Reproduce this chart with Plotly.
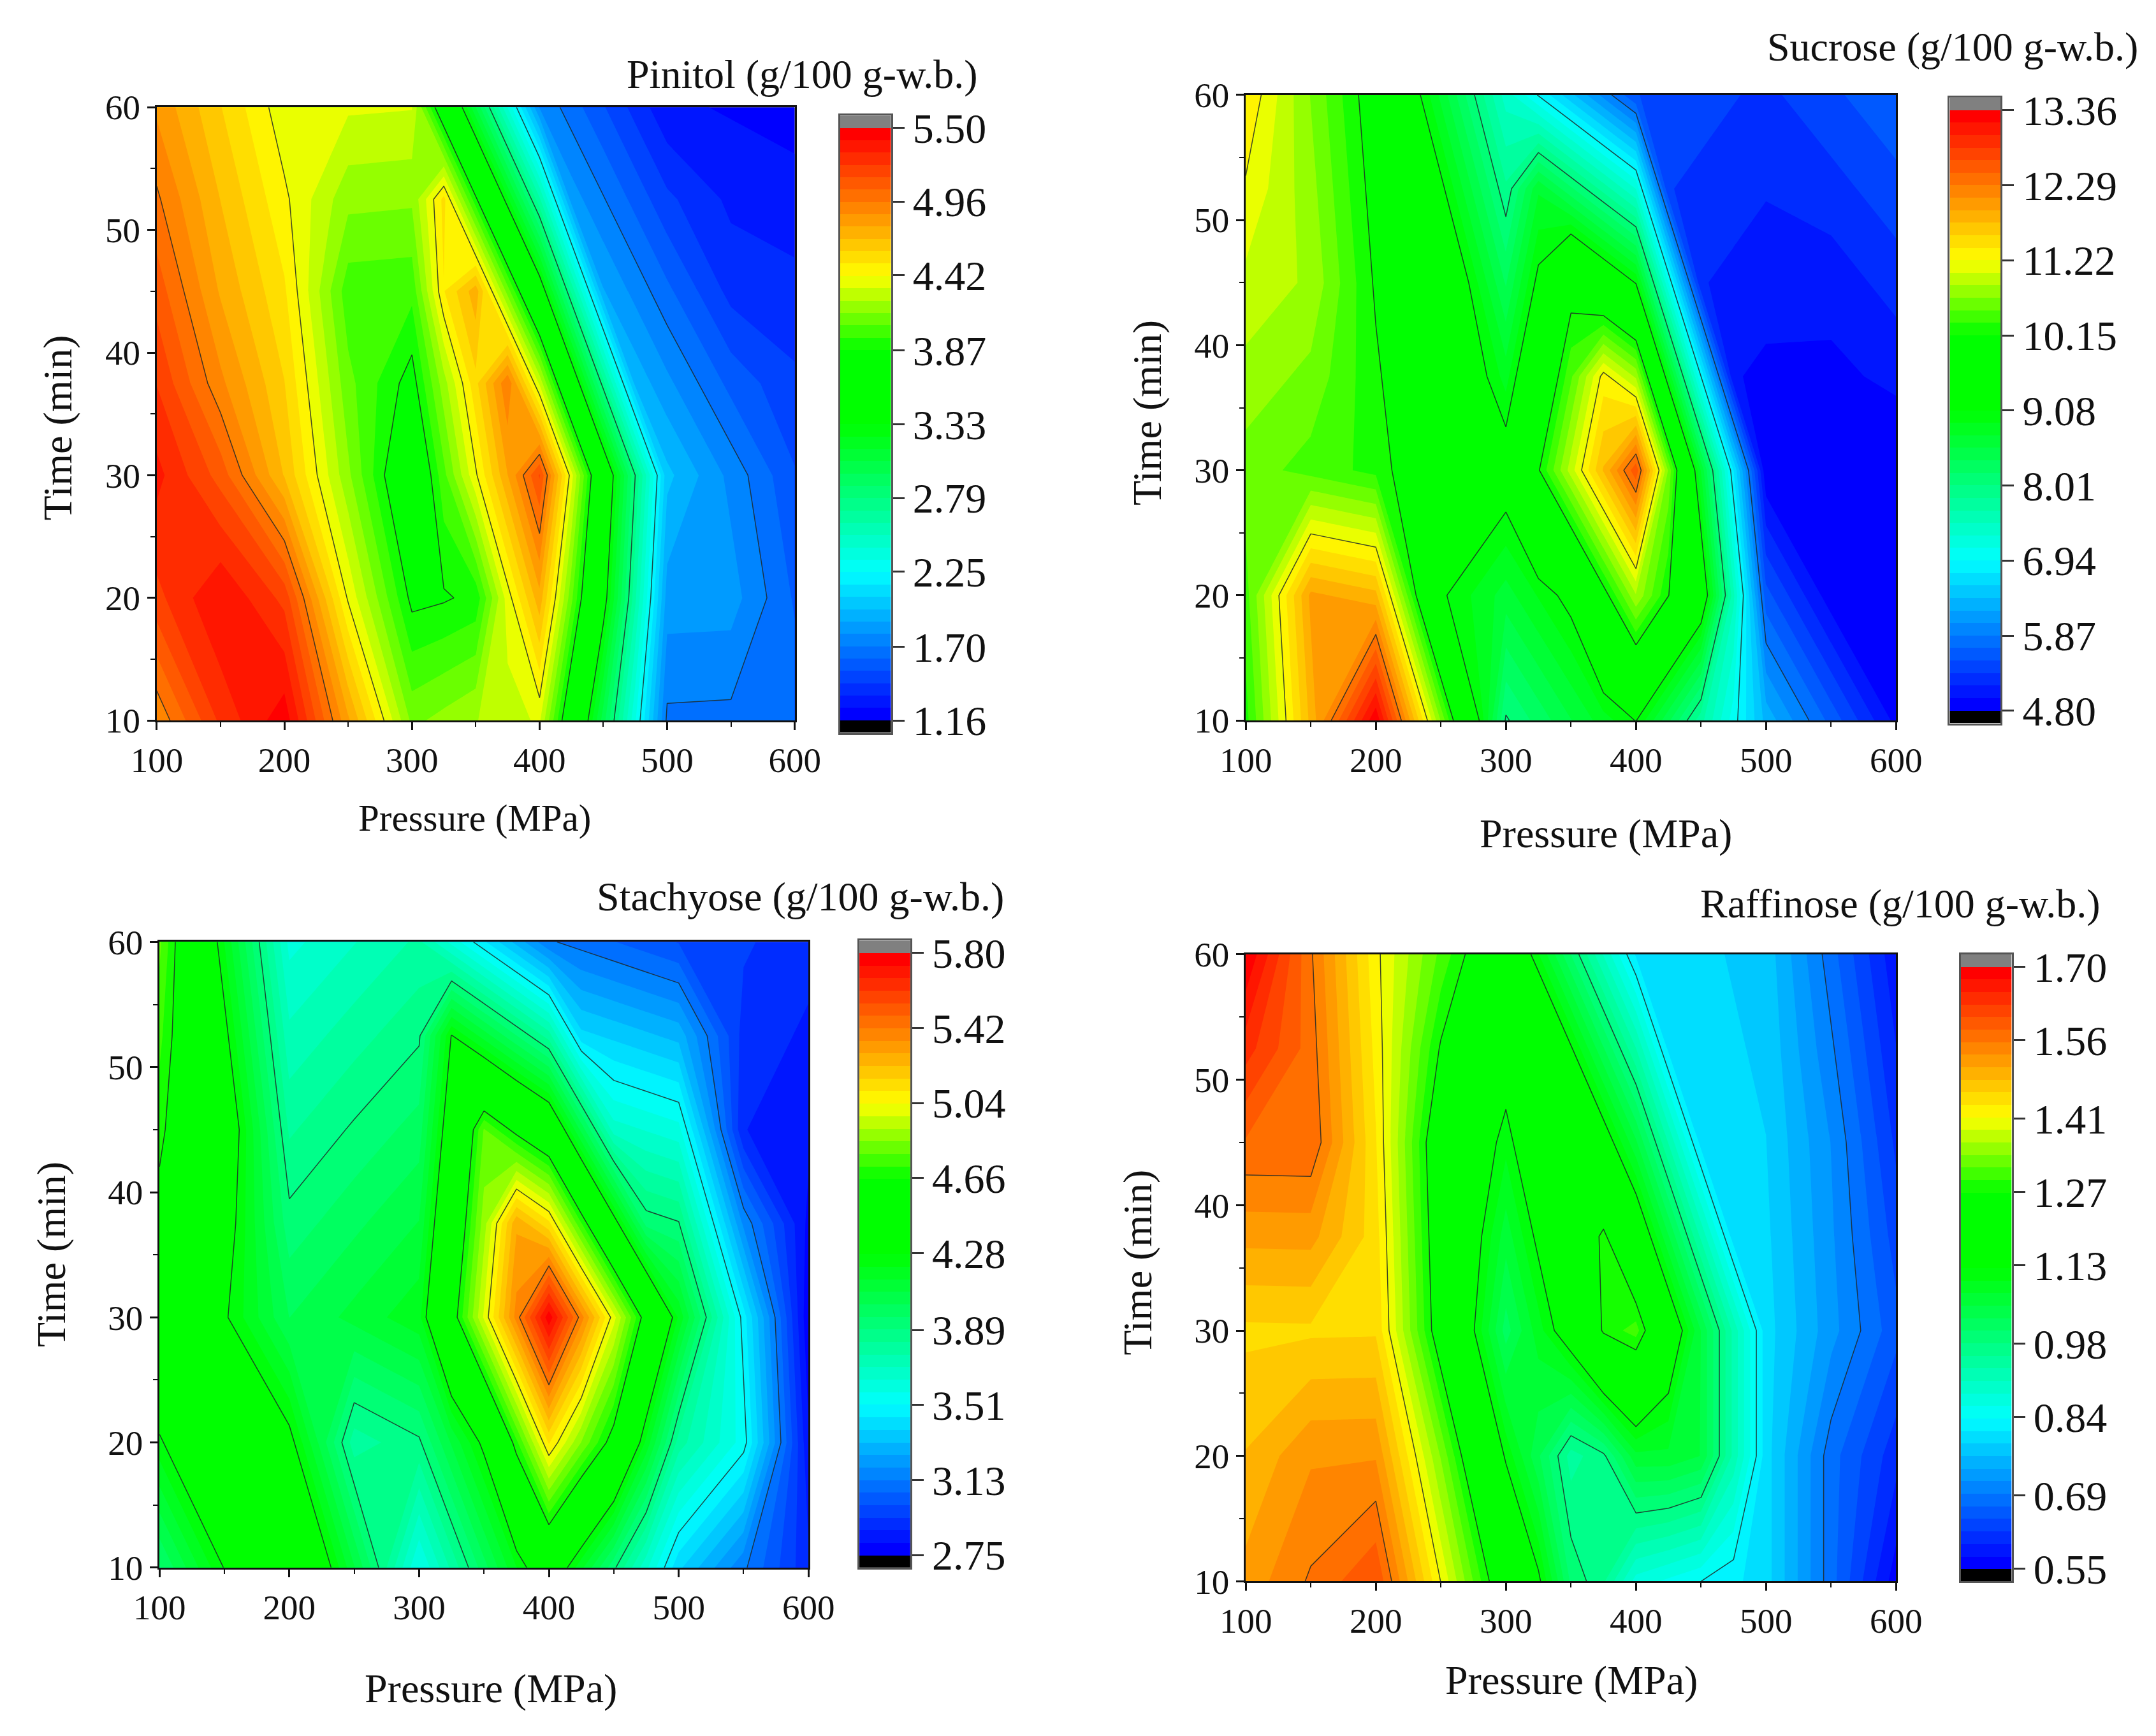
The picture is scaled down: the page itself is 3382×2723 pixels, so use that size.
import plotly.graph_objects as go

pressure = [100, 150, 200, 250, 300, 325, 350, 375, 400, 425, 450, 475, 500, 550, 600]
time_min = [10, 20, 30, 37.5, 45, 52.5, 60]

pinitol = [
    [4.88, 5.25, 5.47, 4.795, 4.12, 4.175, 4.23, 4.285, 4.34, 3.675, 3.01, 2.345, 1.68, 1.675, 1.67],
    [5.2, 5.41, 5.2, 4.40, 3.84, 3.86, 3.90, 4.37, 4.745, 4.08, 3.415, 2.6275, 1.84, 1.835, 1.60],
    [5.35, 5.1, 4.68, 4.165, 3.65, 4.025, 4.40, 4.775, 5.15, 4.3625, 3.575, 2.7875, 2.0, 1.765, 1.53],
    [5.225, 4.89, 4.599, 4.084, 3.82, 4.195, 4.57, 4.945, 4.309, 3.521, 2.734, 1.946, 1.8175, 1.583, 1.45],
    [5.10, 4.765, 4.52, 4.00, 3.99, 4.50, 4.74, 4.104, 3.47, 2.68, 1.89, 1.764, 1.635, 1.40, 1.37],
    [4.975, 4.684, 4.436, 4.1725, 4.16, 4.535, 3.899, 3.262, 2.626, 1.839, 1.71, 1.5815, 1.4525, 1.32, 1.29],
    [4.85, 4.60, 4.355, 4.34, 4.33, 3.694, 3.06, 2.421, 1.785, 1.656, 1.53, 1.399, 1.27, 1.24, 1.21],
]
sucrose = [
    [10.26, 11.81, 13.34, 10.67, 7.98, 8.2575, 8.535, 8.8125, 9.09, 8.4025, 7.715, 7.0275, 6.34, 5.63, 4.92],
    [10.43, 11.98, 11.815, 9.125, 8.64, 8.9175, 9.195, 10.02, 10.845, 10.1575, 9.47, 7.525, 5.58, 4.87, 4.865],
    [10.6, 10.435, 10.27, 9.785, 9.3, 10.125, 10.95, 11.775, 12.6, 10.655, 8.71, 6.765, 4.82, 4.815, 4.81],
    [10.7975, 10.6325, 10.1925, 9.7075, 8.8225, 9.6475, 10.4725, 11.2975, 10.83, 8.885, 6.94, 4.995, 4.9375, 4.9325, 5.0225],
    [10.995, 10.83, 10.115, 9.63, 8.345, 9.17, 9.995, 9.5275, 9.06, 7.115, 5.17, 5.1125, 5.055, 5.05, 5.235],
    [11.1925, 10.7525, 10.0375, 9.1525, 7.8675, 8.6925, 8.225, 7.7575, 7.29, 5.345, 5.2875, 5.23, 5.1725, 5.2625, 5.4475],
    [11.39, 10.675, 9.96, 8.675, 7.39, 6.9225, 6.455, 5.9875, 5.52, 5.4625, 5.405, 5.3475, 5.29, 5.475, 5.66],
]
stachyose = [
    [3.95, 4.28, 4.61, 4.09, 3.57, 3.7825, 3.995, 4.2075, 4.42, 4.165, 3.91, 3.655, 3.40, 3.145, 2.89],
    [4.255, 4.585, 4.315, 3.795, 3.88, 4.0925, 4.305, 4.7025, 5.11, 4.845, 4.60, 4.195, 3.80, 3.545, 2.825],
    [4.56, 4.29, 4.02, 4.105, 4.19, 4.5875, 4.985, 5.3825, 5.78, 5.385, 5.00, 4.595, 4.20, 3.48, 2.76],
    [4.62, 4.35, 3.92, 4.005, 4.0875, 4.485, 4.8825, 5.28, 5.12, 4.725, 4.33, 3.935, 3.90, 3.18, 2.795],
    [4.68, 4.41, 3.82, 3.905, 3.985, 4.3825, 4.79, 4.62, 4.47, 4.065, 3.67, 3.635, 3.60, 2.88, 2.83],
    [4.74, 4.31, 3.72, 3.8025, 3.8825, 4.28, 4.12, 3.96, 3.80, 3.405, 3.37, 3.335, 3.30, 2.915, 2.865],
    [4.80, 4.21, 3.62, 3.70, 3.78, 3.62, 3.46, 3.30, 3.14, 3.105, 3.07, 3.035, 3.00, 2.95, 2.90],
]
raffinose = [
    [1.517, 1.56, 1.603, 1.4115, 1.22, 1.134, 1.00, 0.961, 0.875, 0.856, 0.8375, 0.819, 0.80, 0.68, 0.56],
    [1.486, 1.529, 1.53, 1.3385, 1.119, 1.033, 0.9465, 0.975, 1.07, 1.071, 1.0525, 0.926, 0.80, 0.68, 0.607],
    [1.455, 1.456, 1.457, 1.2375, 1.018, 1.09, 1.1615, 1.275, 1.305, 1.179, 1.0525, 0.926, 0.80, 0.727, 0.654],
    [1.516, 1.517, 1.448, 1.2285, 1.0635, 1.1355, 1.207, 1.2785, 1.181, 1.055, 0.9285, 0.802, 0.795, 0.722, 0.6355],
    [1.5775, 1.5785, 1.4385, 1.219, 1.109, 1.181, 1.2525, 1.155, 1.0575, 0.9315, 0.805, 0.7975, 0.79, 0.717, 0.617],
    [1.639, 1.569, 1.429, 1.2645, 1.1545, 1.2265, 1.129, 1.0315, 0.934, 0.808, 0.80, 0.7925, 0.785, 0.6985, 0.5985],
    [1.70, 1.56, 1.42, 1.31, 1.20, 1.1025, 1.005, 0.9075, 0.81, 0.8025, 0.795, 0.7875, 0.78, 0.68, 0.58],
]

pinitol_ticks = ["1.16", "1.70", "2.25", "2.79", "3.33", "3.87", "4.42", "4.96", "5.50"]
sucrose_ticks = ["4.80", "5.87", "6.94", "8.01", "9.08", "10.15", "11.22", "12.29", "13.36"]
stachyose_ticks = ["2.75", "3.13", "3.51", "3.89", "4.28", "4.66", "5.04", "5.42", "5.80"]
raffinose_ticks = ["0.55", "0.69", "0.84", "0.98", "1.13", "1.27", "1.41", "1.56", "1.70"]

W, H = 3382, 2723
S = 3382 / 1568
FONT = "Liberation Serif"
BANDS = 48


def px(x):
    return x * S / W


def py(y):
    return 1 - y * S / H


def pos(t):
    return (BANDS * t + 0.5) / (BANDS + 1)


COLORSCALE = [
    [0, "#000000"],
    [0.99 / (BANDS + 1), "#000000"],
    [1 / (BANDS + 1), "#0000ff"],
    [pos(0.25), "#00ffff"],
    [pos(0.5), "#00ff00"],
    [pos(0.625), "#00ff00"],
    [pos(0.75), "#ffff00"],
    [BANDS / (BANDS + 1), "#ff0000"],
    [(BANDS + 0.01) / (BANDS + 1), "#808080"],
    [1, "#808080"],
]

panels = [
    dict(z=pinitol, ticks=pinitol_ticks, title="Pinitol (g/100 g-w.b.)",
         plot=(114, 578, 78, 524), bar=(611, 648, 84, 533),
         title_at=(712, 54), xlab=(345, 595), ylab=(42, 311), lab=59),
    dict(z=sucrose, ticks=sucrose_ticks, title="Sucrose (g/100 g-w.b.)",
         plot=(906, 1379, 69, 524), bar=(1418, 1455, 71, 526),
         title_at=(1556, 34), xlab=(1168, 606), ylab=(834, 300), lab=64),
    dict(z=stachyose, ticks=stachyose_ticks, title="Stachyose (g/100 g-w.b.)",
         plot=(116, 588, 685, 1140), bar=(625, 662, 684, 1140),
         title_at=(731, 652), xlab=(357, 1228), ylab=(37, 912), lab=64),
    dict(z=raffinose, ticks=raffinose_ticks, title="Raffinose (g/100 g-w.b.)",
         plot=(906, 1379, 694, 1150), bar=(1426, 1463, 694, 1150),
         title_at=(1528, 657), xlab=(1143, 1222), ylab=(827, 918), lab=64),
]

fig = go.Figure()
annotations = []
for i, p in enumerate(panels):
    n = "" if i == 0 else str(i + 1)
    nb = str(i + 5)
    l, r, t, b = p["plot"]
    bl, br, bt, bb = p["bar"]
    tickvals = [float(v) for v in p["ticks"]]
    start = tickvals[0]
    end = tickvals[-1]
    step = (end - start) / BANDS
    fig.add_trace(go.Contour(
        x=pressure, y=time_min, z=p["z"], xaxis="x" + n, yaxis="y" + n,
        colorscale=COLORSCALE, autocontour=False, hoverinfo="skip", showscale=False,
        contours=dict(start=start, end=end, size=step, coloring="fill"),
        line=dict(width=0, smoothing=0),
    ))
    fig.add_trace(go.Contour(
        x=pressure, y=time_min, z=p["z"], xaxis="x" + n, yaxis="y" + n,
        showscale=False, autocontour=False, hoverinfo="skip",
        contours=dict(start=start, end=end, size=(end - start) / 8, coloring="none"),
        line=dict(width=1.5, color="rgba(30,40,40,0.85)", smoothing=0),
    ))
    # colour key: one strip per level band, plus the under (black) and over (grey) bands
    mids = [start + (k - 0.5) * step for k in range(BANDS + 2)]
    fig.add_trace(go.Heatmap(
        x=[0], y=mids, z=[[m] for m in mids], xaxis="x" + nb, yaxis="y" + nb,
        colorscale=COLORSCALE, zmin=mids[0], zmax=mids[-1], showscale=False, hoverinfo="skip",
    ))
    axis = dict(
        showgrid=False, zeroline=False, showline=True, linecolor="#111111", linewidth=3,
        mirror=True, ticks="outside", ticklen=12, tickwidth=2.5, tickcolor="#111111",
        tickfont=dict(family=FONT, size=55, color="#111111"),
    )
    fig.layout["xaxis" + n] = dict(
        axis, domain=[px(l), px(r)], range=[100, 600], dtick=100, tick0=100,
        anchor="y" + n, minor=dict(dtick=50, ticks="outside", ticklen=7, tickwidth=2, tickcolor="#111111"),
    )
    fig.layout["yaxis" + n] = dict(
        axis, domain=[py(b), py(t)], range=[10, 60], dtick=10, tick0=10,
        anchor="x" + n, minor=dict(dtick=5, ticks="outside", ticklen=7, tickwidth=2, tickcolor="#111111"),
    )
    fig.layout["xaxis" + nb] = dict(
        domain=[px(bl), px(br)], range=[-0.5, 0.5], anchor="y" + nb, showgrid=False, zeroline=False,
        showticklabels=False, ticks="", showline=True, mirror=True, linecolor="#555555", linewidth=3,
    )
    fig.layout["yaxis" + nb] = dict(
        domain=[py(bb), py(bt)], range=[start - step, end + step], anchor="x" + nb, side="right",
        showgrid=False, zeroline=False, showline=True, mirror=True, linecolor="#555555", linewidth=3,
        ticks="outside", ticklen=18, tickwidth=3, tickcolor="#333333",
        tickvals=tickvals, ticktext=p["ticks"],
        tickfont=dict(family=FONT, size=66, color="#111111"),
    )
    annotations.append(dict(
        text=p["title"], x=px(p["title_at"][0]), y=py(p["title_at"][1]),
        xref="paper", yref="paper", xanchor="right", yanchor="middle", showarrow=False,
        font=dict(family=FONT, size=64, color="#111111"),
    ))
    annotations.append(dict(
        text="Pressure (MPa)", x=px(p["xlab"][0]), y=py(p["xlab"][1]),
        xref="paper", yref="paper", xanchor="center", yanchor="middle", showarrow=False,
        font=dict(family=FONT, size=p["lab"], color="#111111"),
    ))
    annotations.append(dict(
        text="Time (min)", x=px(p["ylab"][0]), y=py(p["ylab"][1]), textangle=-90,
        xref="paper", yref="paper", xanchor="center", yanchor="middle", showarrow=False,
        font=dict(family=FONT, size=64, color="#111111"),
    ))

fig.update_layout(
    width=W, height=H, autosize=False, margin=dict(l=0, r=0, t=0, b=0, pad=0, autoexpand=False),
    paper_bgcolor="white", plot_bgcolor="white", showlegend=False, annotations=annotations,
)
fig.write_html(
    "out.html", config={"displayModeBar": False},
    post_script="document.body.style.margin='0';document.documentElement.style.overflow='hidden';",
)
